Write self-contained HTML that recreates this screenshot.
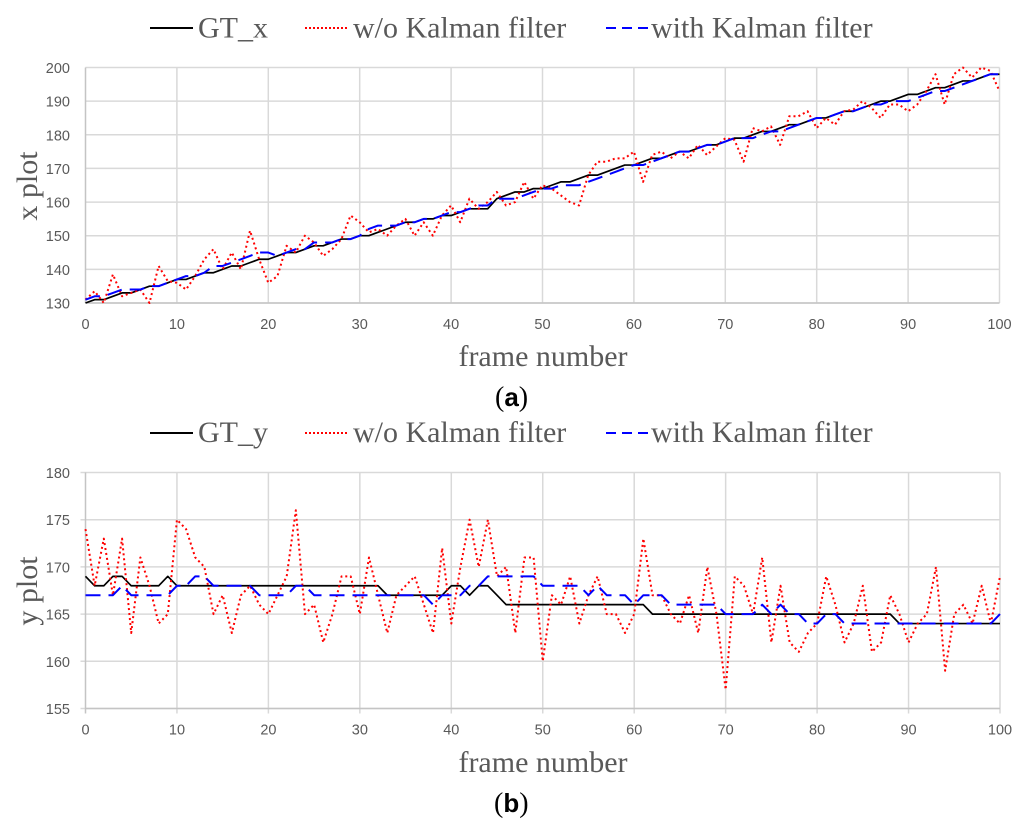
<!DOCTYPE html>
<html>
<head>
<meta charset="utf-8">
<title>Kalman filter tracking plots</title>
<style>
html,body{margin:0;padding:0;background:#fff;}
svg{display:block;}
text{font-family:"Liberation Serif",serif;fill:#595959;}
.tick{font-family:"Liberation Sans",sans-serif;font-size:14.5px;fill:#595959;}
.legend{font-size:30px;}
.title{font-size:30px;}
.cap{font-size:28px;fill:#000;}
.capb{font-family:"Liberation Sans",sans-serif;font-weight:bold;font-size:26px;fill:#000;}
</style>
</head>
<body>
<svg id="figure" width="1024" height="827" viewBox="0 0 1024 827" xmlns="http://www.w3.org/2000/svg">
  <rect width="1024" height="827" fill="#fff"/>
  <g>
    <line x1="150" y1="28" x2="193" y2="28" stroke="#000" stroke-width="2"/>
    <text class="legend" x="198" y="37.5">GT_x</text>
    <line x1="305" y1="28" x2="348" y2="28" stroke="#f00" stroke-width="2" stroke-dasharray="2 2"/>
    <text class="legend" x="353" y="37.5">w/o Kalman filter</text>
    <line x1="606" y1="28" x2="651" y2="28" stroke="#00f" stroke-width="2" stroke-dasharray="10 6"/>
    <text class="legend" x="651" y="37.5">with Kalman filter</text>
  </g>
  <g>
    <line x1="150" y1="433" x2="193" y2="433" stroke="#000" stroke-width="2"/>
    <text class="legend" x="198" y="442">GT_y</text>
    <line x1="305" y1="433" x2="348" y2="433" stroke="#f00" stroke-width="2" stroke-dasharray="2 2"/>
    <text class="legend" x="353" y="442">w/o Kalman filter</text>
    <line x1="606" y1="433" x2="651" y2="433" stroke="#00f" stroke-width="2" stroke-dasharray="10 6"/>
    <text class="legend" x="651" y="442">with Kalman filter</text>
  </g>
  <g id="chartA"></g>
  <g id="chartB"></g>
  <text class="title" x="543" y="366" text-anchor="middle">frame number</text>
  <text class="title" x="543" y="772" text-anchor="middle">frame number</text>
  <text class="title" transform="translate(37,186) rotate(-90)" text-anchor="middle">x plot</text>
  <text class="title" transform="translate(37,591) rotate(-90)" text-anchor="middle">y plot</text>
  <text x="495" y="406" class="cap">(<tspan class="capb">a</tspan>)</text>
  <text x="494" y="812" class="cap">(<tspan class="capb">b</tspan>)</text>
</svg>
<script>
const frameTicks = [0,10,20,30,40,50,60,70,80,90,100];
const xPlotTicks = [130,140,150,160,170,180,190,200];
const yPlotTicks = [155,160,165,170,175,180];

const gtX = [130,131,131,132,133,133,134,135,135,136,137,137,138,139,139,140,141,141,142,143,143,144,145,145,146,147,147,148,149,149,150,150,151,152,153,154,154,155,155,156,156,157,158,158,158,161,162,163,163,164,164,165,166,166,167,168,168,169,170,171,171,172,173,173,174,175,175,176,177,177,178,179,179,180,181,181,182,183,183,184,185,185,186,187,187,188,189,190,190,191,192,192,193,194,194,195,196,196,197,198,198];
const rawX = [131,133.5,130,138.5,132,133,134,130,141,136.5,136,134,138,143,146,140,145,140,151.5,143,136,138,147,145,150,148,144,146,149,156,154,151,152,150,153,155,150,154,150,156,159,154,161,158,160,163,159,160,166,161,165,164,162,160,159,168,172,172,173,173,175,166,174,175,173,175,173,177,174,176.5,179,178.5,172,182,181,182.5,177,185.5,185.5,187,182,185,183,187,187.5,190,188,185,189,189,187,189,193,198,189,198,200,197,200,199,193];
const kalX = [131,132,132,133,134,134,134,135,135,136,137,138,138,139,141,141,142,143,144,145,145,144,145,146,146,148,148,148,149,149,150,152,153,153,153,154,154,155,155,156,157,157,158,159,159,161,161,161,162,163,164,164,165,165,165,166,167,168,169,170,171,171,172,173,174,175,175,176,177,177,178,179,179,179,180,181,181,182,183,184,185,185,186,187,187,188,189,189,190,190,190,191,192,193,193,194,195,196,197,198,198];

const gtY = [169,168,168,169,169,168,168,168,168,169,168,168,168,168,168,168,168,168,168,168,168,168,168,168,168,168,168,168,168,168,168,168,168,167,167,167,167,167,167,167,168,168,167,168,168,167,166,166,166,166,166,166,166,166,166,166,166,166,166,166,166,166,165,165,165,165,165,165,165,165,165,165,165,165,165,165,165,165,165,165,165,165,165,165,165,165,165,165,165,164,164,164,164,164,164,164,164,164,164,164,164];
const rawY = [174,168,173,167,173,163,171,168,164,165,175,174,171,170,165,167,163,167,168,166,165,167,169,176,165,166,162,165,169,169,165,171,167,163,167,168,169,166,163,172,164,170,175,170,175,169,170,163,171,171,160,167,166,169,164,167,169,165,165,163,165,173,167,167,165,164,167,163,170,165,157,169,168,165,171,162,168,162,161,163,164,169,166,162,164,168,161,162,167,165,162,164,165,170,159,165,166,164,168,164,169];
const kalY = [167,167,167,167,168,167,167,167,167,167,168,168,169,169,168,168,168,168,168,167,167,167,167,168,168,167,167,167,167,167,167,167,167,167,167,167,167,167,166,167,167,167,168,168,169,169,169,169,169,169,168,168,168,168,168,167,168,167,167,167,166,167,167,167,166,166,166,166,166,166,165,165,165,165,166,165,166,165,165,164,164,165,165,164,164,164,164,164,164,164,164,164,164,164,164,164,164,164,164,164,165];

const NS = 'http://www.w3.org/2000/svg';

function scaleLinear(d0, d1, r0, r1) {
  return function (v) { return r0 + (v - d0) * (r1 - r0) / (d1 - d0); };
}

function makeEl(tag, attrs) {
  const el = document.createElementNS(NS, tag);
  for (const k in attrs) el.setAttribute(k, attrs[k]);
  return el;
}

function drawSeries(root, sx, sy, values, style, name) {
  const pts = values.map(function (v, i) { return sx(i).toFixed(2) + ',' + sy(v).toFixed(2); }).join(' ');
  const line = makeEl('polyline', Object.assign({ points: pts, fill: 'none', 'stroke-linejoin': 'round' }, style));
  
  
  root.appendChild(line);
}

function drawChart(root, cfg) {
  const sx = scaleLinear(0, 100, cfg.left, cfg.right);
  const sy = scaleLinear(cfg.yTicks[0], cfg.yTicks[cfg.yTicks.length - 1], cfg.bottom, cfg.top);

  cfg.yTicks.forEach(function (t) {
    const g = makeEl('line', { x1: cfg.left - cfg.tickOut, x2: cfg.right, y1: sy(t), y2: sy(t), stroke: '#d9d9d9', 'stroke-width': 1.5 });
    
    
    root.appendChild(g);
    const lab = makeEl('text', { x: 70, y: sy(t) + 5.5, 'text-anchor': 'end', class: 'tick' });
    lab.textContent = t;
    
    
    root.appendChild(lab);
  });

  frameTicks.forEach(function (t) {
    const g = makeEl('line', { x1: sx(t), x2: sx(t), y1: cfg.top, y2: cfg.bottom + cfg.tickOut, stroke: t === 0 ? '#c4c4c4' : '#d9d9d9', 'stroke-width': 1.5 });
    
    
    root.appendChild(g);
    const lab = makeEl('text', { x: sx(t), y: cfg.bottom + 26, 'text-anchor': 'middle', class: 'tick' });
    lab.textContent = t;
    
    
    root.appendChild(lab);
  });

  const axis = makeEl('line', { x1: cfg.left, x2: cfg.right, y1: cfg.bottom, y2: cfg.bottom, stroke: '#c4c4c4', 'stroke-width': 1.5 });
  
  
  root.appendChild(axis);

  drawSeries(root, sx, sy, cfg.gt, { stroke: '#000', 'stroke-width': 1.7 }, 'ground-truth-line');
  drawSeries(root, sx, sy, cfg.raw, { stroke: '#f00', 'stroke-width': 2, 'stroke-dasharray': '2 3' }, 'no-kalman-line');
  drawSeries(root, sx, sy, cfg.kal, { stroke: '#00f', 'stroke-width': 2, 'stroke-dasharray': '15 8' }, 'kalman-line');
}

drawChart(document.getElementById('chartA'), {
  left: 85.5, right: 999.5, top: 67.5, bottom: 303, tickOut: 0,
  yTicks: xPlotTicks, gt: gtX, raw: rawX, kal: kalX
});
drawChart(document.getElementById('chartB'), {
  left: 85.5, right: 1000, top: 472.5, bottom: 708.5, tickOut: 5,
  yTicks: yPlotTicks, gt: gtY, raw: rawY, kal: kalY
});
</script>
</body>
</html>
